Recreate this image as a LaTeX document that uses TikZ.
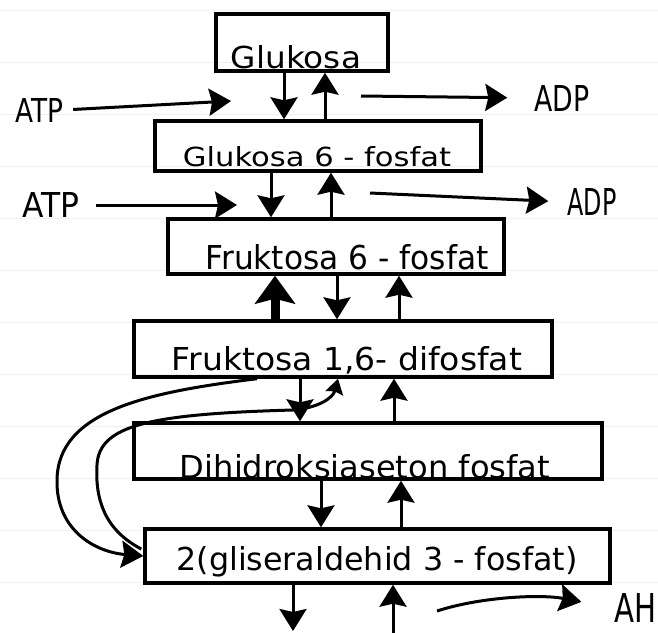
\documentclass[tikz,border=0pt]{standalone}
\usepackage{fontspec}
\setmainfont{DejaVu Sans}
\usepackage{graphicx}
\usetikzlibrary{arrows.meta,calc}
\newcommand{\hw}[3]{\resizebox{#1pt}{#2pt}{#3}}
\begin{document}
\begin{tikzpicture}[x=1pt,y=-1pt,
  box/.style={draw,line width=3.4pt,inner sep=0pt},
  lbl/.style={inner sep=0pt},
  paper/.style={gray!12,line width=1pt},
  arr/.style={line width=3pt,-{Stealth[length=22pt,width=27pt,inset=3pt]}},
  bigarr/.style={line width=9pt,-{Stealth[length=28pt,width=40pt,inset=5pt]}},
  sarr/.style={line width=3pt,-{Stealth[length=15pt,width=18pt,inset=2pt]}}]
\fill[white] (0,0) rectangle (658,632);
\useasboundingbox (0,0) rectangle (658,632);
\foreach \yy in {10,62,114,166,218,270,322,374,426,478,530,582}
  \draw[paper] (0,\yy) -- (658,\yy);
% boxes
\node[box,minimum width=172pt,minimum height=57pt] (b1) at (302,42.5) {};
\node[box,minimum width=326pt,minimum height=50pt] (b2) at (318,146) {};
\node[box,minimum width=336pt,minimum height=55pt] (b3) at (336,246.5) {};
\node[box,minimum width=418pt,minimum height=56pt] (b4) at (343,349) {};
\node[box,minimum width=468pt,minimum height=56pt] (b5) at (368,451) {};
\node[box,minimum width=465pt,minimum height=54pt] (b6) at (377.5,556) {};
% texts
\node[lbl] (t1) at (296,57) {\hw{130}{23}{Glukosa}};
\node[lbl] (t2) at (317,157) {\hw{268}{20}{Glukosa 6 - fosfat}};
\node[lbl] (t3) at (347,257) {\hw{283}{25}{Fruktosa 6 - fosfat}};
\node[lbl] (t4) at (347,360) {\hw{350}{24}{Fruktosa 1,6- difosfat}};
\node[lbl] (t5) at (365,467) {\hw{370}{24}{Dihidroksiaseton fosfat}};
\node[lbl] (t6) at (377,562) {\hw{401}{24}{2(gliseraldehid 3 - fosfat)}};
% side labels
\node[lbl] (atp1) at (39,110) {\hw{48}{24}{ATP}};
\node[lbl] (atp2) at (51,205) {\hw{57}{25}{ATP}};
\node[lbl] (adp1) at (562,98) {\hw{55}{26}{ADP}};
\node[lbl] (adp2) at (592,202) {\hw{49}{27}{ADP}};
\node[lbl] (ah) at (635,608) {\hw{42}{29}{AH}};
% coordinates
\coordinate (atp1e) at (231,101);
\coordinate (adp1s) at (361,96);
\coordinate (atp2e) at (237,205);
\coordinate (adp2s) at (370,193);
\coordinate (d1) at (293,631);
\coordinate (u1) at (393,634);
\coordinate (ahs) at (437,611);
% b1 - b2
\draw[arr] (284,0 |- b1.south) -- (284,0 |- b2.north);
\draw[arr] (325,0 |- b2.north) -- (325,0 |- b1.south);
\draw[arr,shorten <=10pt] (atp1.east) -- (atp1e);
\draw[arr,shorten >=27pt] (adp1s) -- (adp1.west);
% b2 - b3
\draw[arr] (271,0 |- b2.south) -- (271,0 |- b3.north);
\draw[arr] (331,0 |- b3.north) -- (331,0 |- b2.south);
\draw[arr,shorten <=16pt] (atp2.east) -- (atp2e);
\draw[arr,shorten >=19pt] (adp2s) -- (adp2.west);
% b3 - b4
\draw[bigarr] (275,0 |- b4.north) -- (275,0 |- b3.south);
\draw[arr] (337,0 |- b3.south) -- (337,0 |- b4.north);
\draw[arr] (399,0 |- b4.north) -- (399,0 |- b3.south);
% b4 - b5
\draw[arr] (300,0 |- b4.south) -- (300,0 |- b5.north);
\draw[arr] (394,0 |- b5.north) -- (394,0 |- b4.south);
% b5 - b6
\draw[arr] (321,0 |- b5.south) -- (321,0 |- b6.north);
\draw[arr] (401,0 |- b6.north) -- (401,0 |- b5.south);
% loops b4 <-> b6
\draw[arr] (257,0 |- b4.south) .. controls (150,392) and (58,410) .. (57,480)
  .. controls (56,530) and (95,552) .. (b6.west);
\draw[sarr] ($(b6.west)+(-2,-7)$) .. controls (105,530) and (95,500) .. (97,465)
  .. controls (99,425) and (150,414) .. (293,410)
  .. controls (318,408) and (333,398) .. (338,0 |- b4.south);
% below b6
\draw[arr] (293,0 |- b6.south) -- (d1);
\draw[arr] (u1) -- (393,0 |- b6.south);
\draw[arr,shorten >=33pt] (ahs) .. controls (480,597) and (540,594) .. (ah.west);
\end{tikzpicture}
\end{document}
